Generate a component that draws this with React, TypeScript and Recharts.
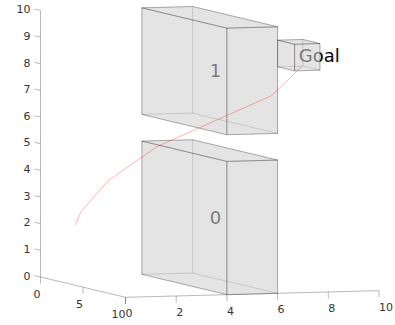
import { Scatter, ScatterChart, XAxis, YAxis } from "recharts";

const WIDTH = 395;
const HEIGHT = 325;

// [x, y, z] in the plot's own units
type P3 = [number, number, number];

const xTicks = [0, 2, 4, 6, 8, 10];
const yTicks = [0, 5, 10];
const zTicks = [0, 1, 2, 3, 4, 5, 6, 7, 8, 9, 10];

const boxNames = ["0", "1", "Goal"];
const boxXRange = [[4, 6], [4, 6], [6, 7]];
const boxYRange = [[0, 10], [0, 10], [10, 12]];
const boxZRange = [[0, 5], [6, 10], [8.5, 9.5]];

const pathLine: P3[] = [
  [0.02, 4, 2.24],
  [0.09, 4.5, 2.79],
  [0.64, 6, 4.04],
  [2.25, 7, 5.37],
  [6.1, 9, 7.34],
  [6.95, 10, 8.48],
];

// fixed camera of the 3d view, turned into the flat numbers the chart plots
const project = ([x, y, z]: P3) => ({
  px: 40.5 + 25.35 * x + 8.5 * y,
  py: 277 - 0.665 * x + 2.03 * y - 26.65 * z,
});
const flat = (pts: P3[]) => pts.map(project);

type Lbl = { px: number; py: number; text: string; anchor: string; size: number; color: string };

const tickColor = "#333333";

const tickLabels: Lbl[] = [
  ...xTicks.map((v) => ({ ...project([v, 10, 0]), text: String(v), anchor: "start", size: 11, color: tickColor })).map((l) => ({ ...l, py: l.py + 20 })),
  ...yTicks.map((v) => ({ ...project([0, v, 0]), text: String(v), anchor: "end", size: 11, color: tickColor })).map((l) => ({ ...l, py: l.py + 21 })),
  ...zTicks.map((v) => ({ ...project([0, 0, v]), text: String(v), anchor: "end", size: 11, color: tickColor })).map((l) => ({ ...l, px: l.px - 10, py: l.py + 2.7 })),
];

const boxLabels: Lbl[] = boxNames.map((name, i) => {
  const c: P3 = [
    (boxXRange[i][0] + boxXRange[i][1]) / 2,
    (boxYRange[i][0] + boxYRange[i][1]) / 2,
    (boxZRange[i][0] + boxZRange[i][1]) / 2,
  ];
  const p = project(c);
  return { ...p, py: p.py + 6.5, text: name, anchor: "start", size: 18, color: "#000000" };
});

const axisLines: P3[][] = [
  [[0, 0, 0], [0, 0, 10]],
  [[0, 0, 0], [0, 10, 0]],
  [[0, 10, 0], [10, 10, 0]],
  ...xTicks.map((v): P3[] => [[v, 10, 0], [v, 10, -0.25]]),
  ...yTicks.map((v): P3[] => [[0, v, 0], [0, v, -0.25]]),
  ...zTicks.map((v): P3[] => [[0, 0, v], [0, -0.7, v]]),
];

// faces of one box, the three facing away from the viewer first
const boxFaces = (i: number): P3[][] => {
  const [x0, x1] = boxXRange[i];
  const [y0, y1] = boxYRange[i];
  const [z0, z1] = boxZRange[i];
  return [
    [[x0, y0, z0], [x1, y0, z0], [x1, y1, z0], [x0, y1, z0], [x0, y0, z0]],
    [[x0, y0, z0], [x1, y0, z0], [x1, y0, z1], [x0, y0, z1], [x0, y0, z0]],
    [[x1, y0, z0], [x1, y1, z0], [x1, y1, z1], [x1, y0, z1], [x1, y0, z0]],
    [[x0, y0, z0], [x0, y1, z0], [x0, y1, z1], [x0, y0, z1], [x0, y0, z0]],
    [[x0, y1, z0], [x1, y1, z0], [x1, y1, z1], [x0, y1, z1], [x0, y1, z0]],
    [[x0, y0, z1], [x1, y0, z1], [x1, y1, z1], [x0, y1, z1], [x0, y0, z1]],
  ];
};

const noDot = () => <g />;

const textShape = (props: any) => {
  const { cx, cy, payload } = props;
  return (
    <text x={cx} y={cy} textAnchor={payload.anchor} fontSize={payload.size} fill={payload.color} fontFamily="DejaVu Sans">
      {payload.text}
    </text>
  );
};

export default function App() {
  return (
    <div style={{ position: "absolute", left: 0, top: 0, width: WIDTH, height: HEIGHT }}>
      <ScatterChart width={WIDTH} height={HEIGHT} margin={{ top: 0, right: 0, bottom: 0, left: 0 }}>
        <XAxis type="number" dataKey="px" domain={[0, WIDTH]} hide />
        <YAxis type="number" dataKey="py" domain={[0, HEIGHT]} reversed hide />
        <Scatter data={tickLabels} shape={textShape} isAnimationActive={false} />
        <Scatter data={boxLabels} shape={textShape} isAnimationActive={false} />
        {axisLines.map((seg, i) => (
          <Scatter
            key={`axis-${i}`}
            data={flat(seg)}
            shape={noDot}
            line={{ stroke: "#262626", strokeOpacity: 0.4, strokeWidth: 0.8 }}
            lineJointType="linear"
            isAnimationActive={false}
          />
        ))}
        {boxNames.flatMap((name, b) =>
          boxFaces(b).map((face, f) => (
            <Scatter
              key={`box-${name}-${f}`}
              data={flat(face)}
              shape={noDot}
              line={{
                stroke: "#262626",
                strokeOpacity: f < 3 ? 0.16 : 0.36,
                strokeWidth: 0.8,
                fill: "#d0d0d0",
                fillOpacity: 0.35,
              }}
              lineJointType="linear"
              isAnimationActive={false}
            />
          )),
        )}
        <Scatter
          data={flat(pathLine)}
          shape={noDot}
          line={{ stroke: "#ff0000", strokeOpacity: 0.38, strokeWidth: 0.8 }}
          lineJointType="linear"
          isAnimationActive={false}
        />
      </ScatterChart>
    </div>
  );
}
